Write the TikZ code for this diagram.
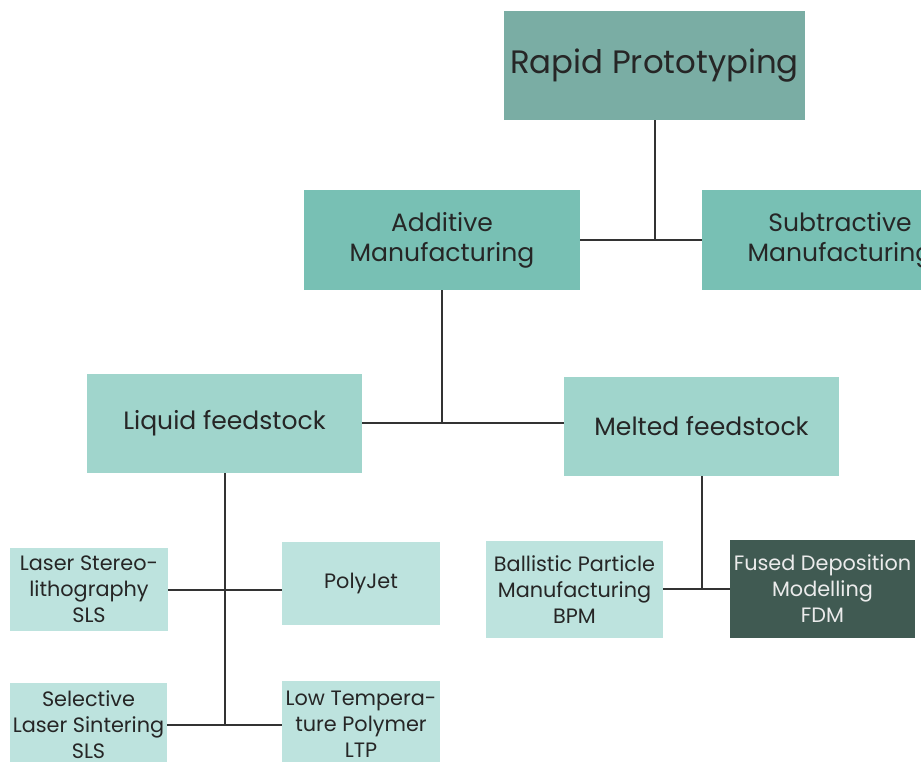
\documentclass[tikz,border=0pt]{standalone}
\usepackage{fontspec}
\setmainfont{Poppins}
\begin{document}
\begin{tikzpicture}[x=0.75pt,y=-0.75pt,
  box/.style={rectangle,inner sep=0pt,align=center,text=txt},
  lvlA/.style={box,fill=cA,font=\fontsize{24.3}{28}\selectfont},
  lvlB/.style={box,fill=cB,font=\fontsize{18.8}{22.5}\selectfont},
  lvlC/.style={box,fill=cC,font=\fontsize{18.8}{22.5}\selectfont},
  lvlD/.style={box,fill=cD,font=\fontsize{15.6}{19.5}\selectfont},
  lvlE/.style={box,fill=cE,text=white!92!black,font=\fontsize{15.6}{19.5}\selectfont},
  link/.style={draw=lnk,line width=1.5pt}]
\definecolor{cA}{HTML}{7AADA4}
\definecolor{cB}{HTML}{78C0B4}
\definecolor{cC}{HTML}{A0D5CC}
\definecolor{cD}{HTML}{BDE3DE}
\definecolor{cE}{HTML}{405A52}
\definecolor{txt}{HTML}{262626}
\definecolor{lnk}{HTML}{333333}
\useasboundingbox (0,0) rectangle (921,762);
\clip (0,0) rectangle (921,762);
% nodes
\node[lvlA,minimum width=301*0.75pt,minimum height=109*0.75pt] (rp) at (654.5,65.5) {Rapid Prototyping};
\node[lvlB,minimum width=276*0.75pt,minimum height=100*0.75pt] (am) at (442,240) {Additive\\Manufacturing};
\node[lvlB,minimum width=276*0.75pt,minimum height=100*0.75pt] (sm) at (840,240) {Subtractive\\Manufacturing};
\node[lvlC,minimum width=275*0.75pt,minimum height=99*0.75pt] (lf) at (224.5,423.5) {Liquid feedstock};
\node[lvlC,minimum width=275*0.75pt,minimum height=99*0.75pt] (mf) at (701.5,426.5) {Melted feedstock};
\node[lvlD,minimum width=158*0.75pt,minimum height=83*0.75pt] (ls) at (89,589.5) {Laser Stereo-\\lithography\\SLS};
\node[lvlD,minimum width=158*0.75pt,minimum height=83*0.75pt] (pj) at (361,583.5) {PolyJet};
\node[lvlD,minimum width=157*0.75pt,minimum height=83*0.75pt] (sl) at (88.5,724.5) {Selective\\Laser Sintering\\SLS};
\node[lvlD,minimum width=158*0.75pt,minimum height=86*0.75pt] (lt) at (361,724) {Low Tempera-\\ture Polymer\\LTP};
\node[lvlD,minimum width=177*0.75pt,minimum height=97*0.75pt] (bp) at (574.5,589.5) {Ballistic Particle\\Manufacturing\\BPM};
\node[lvlE,minimum width=185*0.75pt,minimum height=98*0.75pt] (fd) at (822.5,589) {Fused Deposition\\Modelling\\FDM};
% junction coordinates
\coordinate (j1) at (rp.south |- am.east);
\coordinate (j2) at (am.south |- lf.east);
\coordinate (j3) at (lf.south |- ls.east);
\coordinate (j4) at (lf.south |- sl.east);
\coordinate (j5) at (mf.south |- fd.west);
% connectors
\draw[link] (rp.south) -- (j1);
\draw[link] (am.east) -- (sm.west);
\draw[link] (am.south) -- (j2);
\draw[link] (lf.east) -- (lf.east -| mf.west);
\draw[link] (lf.south) -- (j4);
\draw[link] (ls.east) -- (ls.east -| pj.west);
\draw[link] (sl.east) -- (sl.east -| lt.west);
\draw[link] (mf.south) -- (j5);
\draw[link] (bp.east |- fd.west) -- (fd.west);
\end{tikzpicture}
\end{document}
